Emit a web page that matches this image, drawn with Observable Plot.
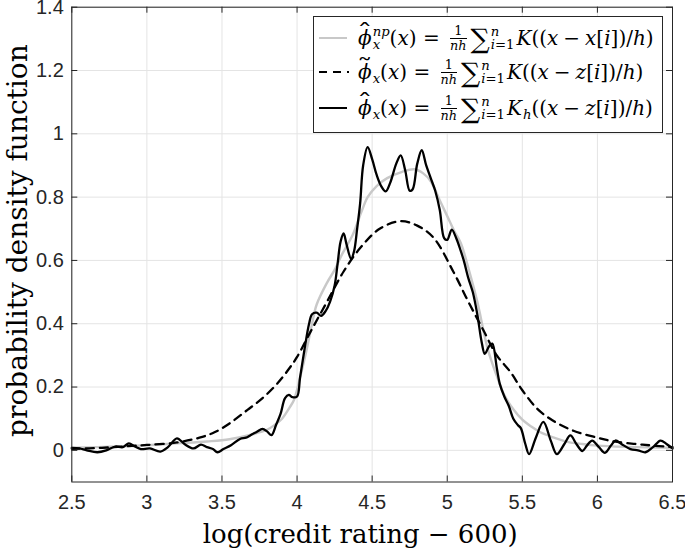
<!DOCTYPE html>
<html>
<head>
<meta charset="utf-8">
<script src="https://cdn.jsdelivr.net/npm/d3@7"></script>
<script src="https://cdn.jsdelivr.net/npm/@observablehq/plot@0.6"></script>
<style>
  body { margin: 0; background: #fff; }
  #wrap { position: relative; width: 685px; height: 551px; overflow: hidden; }
  #legend {
    position: absolute; left: 313px; top: 16px; width: 350px; height: 117px;
    box-sizing: border-box; border: 1.3px solid #262626; background: #fff;
    font-family: "DejaVu Serif", serif; font-size: 20px; color: #000;
  }
  .row { position: absolute; left: 0; height: 34px; display: flex; align-items: center; white-space: nowrap; }
  .sw { position: absolute; left: 5px; width: 28px; height: 0; }
  .eq { position: absolute; left: 44px; display: flex; align-items: center; line-height: 1; }
  .eq i { font-style: italic; }
  .acc { position: relative; display: inline-block; font-style: italic; line-height: 1; }
  .acc .mk { position: absolute; left: 0; right: 0; top: -0.32em; text-align: center; font-style: normal; transform: scaleX(1.6); line-height: 1; }
  .ss { display: inline-flex; flex-direction: column; font-size: 0.66em; line-height: 1.0; margin-left: 1px; }
  .frac { display: inline-flex; flex-direction: column; align-items: center; font-size: 0.64em; line-height: 1.05; margin: 0 4px; }
  .frac .n { border-bottom: 1px solid #000; padding: 0 2px; text-align: center; width: 100%; box-sizing: border-box; }
  .sp { display: inline-block; width: 0.32em; }
  .msp { display: inline-block; width: 0.25em; }
  .sum { font-size: 1.35em; line-height: 1; }
</style>
</head>
<body>
<div id="wrap"></div>
<script>
// ---- data ----
const xTicks = [2.5, 3, 3.5, 4, 4.5, 5, 5.5, 6, 6.5];
const yTicks = [0, 0.2, 0.4, 0.6, 0.8, 1, 1.2, 1.4];

// grey: non-parametric density of x
const npX = [2.5, 2.8, 3.0, 3.2, 3.4, 3.55, 3.7, 3.8, 3.85, 3.9, 3.95, 3.98, 4.02, 4.06, 4.1, 4.13, 4.2, 4.25, 4.3, 4.37, 4.43, 4.47, 4.53, 4.6, 4.7, 4.78, 4.84, 4.89, 4.95, 5.0, 5.05, 5.09, 5.15, 5.2, 5.27, 5.33, 5.38, 5.44, 5.5, 5.56, 5.62, 5.7, 5.8, 5.9, 6.0, 6.2, 6.5];
const npY = [0.008, 0.012, 0.016, 0.022, 0.028, 0.035, 0.05, 0.065, 0.08, 0.10, 0.135, 0.16, 0.23, 0.31, 0.40, 0.46, 0.53, 0.57, 0.62, 0.68, 0.755, 0.80, 0.835, 0.86, 0.88, 0.888, 0.875, 0.85, 0.79, 0.74, 0.69, 0.655, 0.56, 0.47, 0.32, 0.235, 0.175, 0.13, 0.097, 0.075, 0.057, 0.042, 0.027, 0.02, 0.015, 0.011, 0.008];

// dashed: kernel density of z
const tildeX = [2.5, 2.7, 2.87, 3.0, 3.2, 3.35, 3.45, 3.55, 3.67, 3.77, 3.87, 3.95, 4.0, 4.09, 4.2, 4.31, 4.42, 4.55, 4.69, 4.8, 4.91, 5.04, 5.14, 5.24, 5.33, 5.42, 5.5, 5.6, 5.7, 5.84, 6.0, 6.11, 6.3, 6.5];
const tildeY = [0.005, 0.008, 0.013, 0.017, 0.025, 0.04, 0.057, 0.085, 0.128, 0.165, 0.212, 0.26, 0.295, 0.375, 0.47, 0.565, 0.639, 0.70, 0.724, 0.71, 0.671, 0.565, 0.47, 0.38, 0.30, 0.248, 0.19, 0.131, 0.095, 0.062, 0.04, 0.028, 0.018, 0.01];

// solid black: kernel density with K_h
const hatX = [2.5, 2.55, 2.6, 2.67, 2.73, 2.79, 2.84, 2.88, 2.92, 2.96, 3.02, 3.09, 3.14, 3.2, 3.25, 3.31, 3.36, 3.4, 3.44, 3.47, 3.51, 3.56, 3.62, 3.66, 3.69, 3.73, 3.77, 3.8, 3.83, 3.86, 3.89, 3.92, 3.945, 3.97, 4.0, 4.02, 4.05, 4.08, 4.1, 4.13, 4.16, 4.19, 4.22, 4.25, 4.27, 4.29, 4.31, 4.33, 4.36, 4.38, 4.4, 4.42, 4.44, 4.47, 4.5, 4.53, 4.56, 4.59, 4.62, 4.66, 4.69, 4.72, 4.75, 4.77, 4.8, 4.83, 4.86, 4.89, 4.92, 4.95, 4.98, 5.0, 5.03, 5.06, 5.09, 5.11, 5.14, 5.17, 5.2, 5.23, 5.25, 5.28, 5.3, 5.33, 5.35, 5.38, 5.41, 5.44, 5.47, 5.49, 5.52, 5.545, 5.59, 5.64, 5.69, 5.73, 5.78, 5.82, 5.86, 5.9, 5.93, 5.965, 6.01, 6.05, 6.09, 6.12, 6.16, 6.22, 6.27, 6.32, 6.37, 6.42, 6.46, 6.5];
const hatY = [0.008, 0.006, 0.0, -0.006, 0.0, 0.012, 0.010, 0.022, 0.012, 0.004, 0.006, -0.004, 0.010, 0.038, 0.020, 0.006, 0.018, 0.010, 0.004, -0.006, 0.004, 0.016, 0.036, 0.040, 0.048, 0.058, 0.068, 0.060, 0.048, 0.080, 0.115, 0.165, 0.175, 0.168, 0.170, 0.23, 0.32, 0.40, 0.43, 0.435, 0.425, 0.44, 0.47, 0.52, 0.59, 0.66, 0.685, 0.65, 0.605, 0.63, 0.70, 0.78, 0.90, 0.958, 0.92, 0.87, 0.835, 0.818, 0.845, 0.905, 0.932, 0.885, 0.82, 0.825, 0.905, 0.948, 0.90, 0.86, 0.82, 0.76, 0.67, 0.665, 0.697, 0.67, 0.63, 0.60, 0.545, 0.50, 0.43, 0.34, 0.305, 0.33, 0.337, 0.26, 0.21, 0.17, 0.14, 0.10, 0.08, 0.07, 0.02, -0.012, 0.04, 0.09, 0.03, -0.012, 0.02, 0.047, 0.02, -0.002, 0.015, 0.031, 0.01, -0.008, 0.015, 0.031, 0.02, 0.004, 0.0, -0.006, 0.010, 0.031, 0.020, 0.006];

const xLabel = "log(credit rating − 600)";
const yLabel = "probability density function";

// ---- build ----
const toRows = (xs, ys) => xs.map((x, i) => ({x, y: ys[i]}));
const npData = toRows(npX, npY);
const tildeData = toRows(tildeX, tildeY);
const hatData = toRows(hatX, hatY);

const W = 685, H = 551;
const mL = 71.3, mR = 13, mT = 6.7, mB = 551 - 481.5;
const fH = H - mT - mB, fW = W - mL - mR;
const tk = 6;
const axisColor = "#262626";
const gridColor = "#e4e4e4";

const chart = Plot.plot({
  width: W, height: H,
  marginLeft: mL, marginRight: mR, marginTop: mT, marginBottom: mB,
  x: {domain: [2.5, 6.5]},
  y: {domain: [-0.1, 1.4]},
  style: {fontFamily: "Liberation Sans, Arial, sans-serif", fontSize: "20px", color: axisColor, background: "#fff", overflow: "visible"},
  marks: [
    Plot.gridX(xTicks, {stroke: gridColor, strokeOpacity: 1, strokeWidth: 1}),
    Plot.gridY(yTicks, {stroke: gridColor, strokeOpacity: 1, strokeWidth: 1}),
    Plot.line(npData, {x: "x", y: "y", stroke: "#c8c8c8", strokeWidth: 2.4, curve: "catmull-rom"}),
    Plot.line(tildeData, {x: "x", y: "y", stroke: "#000", strokeWidth: 2.3, strokeDasharray: "8,6", curve: "catmull-rom"}),
    Plot.line(hatData, {x: "x", y: "y", stroke: "#000", strokeWidth: 2.3, curve: "catmull-rom", strokeLinejoin: "round"}),
    Plot.tickX(xTicks, {x: d => d, insetTop: fH - tk, stroke: axisColor}),
    Plot.tickX(xTicks, {x: d => d, insetBottom: fH - tk, stroke: axisColor}),
    Plot.tickY(yTicks, {y: d => d, insetRight: fW - tk, stroke: axisColor}),
    Plot.tickY(yTicks, {y: d => d, insetLeft: fW - tk, stroke: axisColor}),
    Plot.frame({stroke: axisColor, strokeWidth: 1}),
    Plot.axisX(xTicks, {tickSize: 0, tickPadding: 13, label: null, tickFormat: d => String(d), fill: axisColor}),
    Plot.axisY(yTicks, {tickSize: 0, tickPadding: 8, label: null, tickFormat: d => String(d), fill: axisColor}),
    Plot.text([xLabel], {frameAnchor: "bottom", textAnchor: "middle", lineAnchor: "middle", dx: -12, dy: 53, fontFamily: "DejaVu Serif", fontSize: 26, fill: "#000"}),
    Plot.text([yLabel], {frameAnchor: "left", textAnchor: "middle", lineAnchor: "middle", dx: -54, dy: -4, rotate: -90, fontFamily: "DejaVu Serif", fontSize: 28, fill: "#000"})
  ]
});

const wrap = document.getElementById("wrap");
wrap.appendChild(chart);

// legend (HTML overlay)
const legend = document.createElement("div");
legend.id = "legend";
const hatMk = "ˆ", tilMk = "˜";
const rows = [
  {top: 4, sw: '<span class="sw" style="border-top:2.4px solid #c8c8c8"></span>',
   eq: `<span class="acc">ϕ<span class="mk">${hatMk}</span></span><span class="ss"><i>np</i><i>x</i></span>(<i>x</i>)<span class="sp"></span>=<span class="sp"></span><span class="frac"><span class="n">1</span><span><i>nh</i></span></span><span class="sum">∑</span><span class="ss"><i>n</i><span><i>i</i>=1</span></span>&#8202;<i>K</i>((<i>x</i><span class="msp"></span>−<span class="msp"></span><i>x</i>[<i>i</i>])/<i>h</i>)`},
  {top: 38, sw: '<span class="sw" style="width:30px;height:2.3px;background:repeating-linear-gradient(90deg,#000 0 8px,transparent 8px 14px)"></span>',
   eq: `<span class="acc">ϕ<span class="mk">${tilMk}</span></span><span class="ss"><i>&nbsp;</i><i>x</i></span>(<i>x</i>)<span class="sp"></span>=<span class="sp"></span><span class="frac"><span class="n">1</span><span><i>nh</i></span></span><span class="sum">∑</span><span class="ss"><i>n</i><span><i>i</i>=1</span></span>&#8202;<i>K</i>((<i>x</i><span class="msp"></span>−<span class="msp"></span><i>z</i>[<i>i</i>])/<i>h</i>)`},
  {top: 74, sw: '<span class="sw" style="border-top:2.4px solid #000"></span>',
   eq: `<span class="acc">ϕ<span class="mk">${hatMk}</span></span><span class="ss"><i>&nbsp;</i><i>x</i></span>(<i>x</i>)<span class="sp"></span>=<span class="sp"></span><span class="frac"><span class="n">1</span><span><i>nh</i></span></span><span class="sum">∑</span><span class="ss"><i>n</i><span><i>i</i>=1</span></span>&#8202;<i>K</i><span class="ss"><i>&nbsp;</i><i>h</i></span>((<i>x</i><span class="msp"></span>−<span class="msp"></span><i>z</i>[<i>i</i>])/<i>h</i>)`}
];
legend.innerHTML = rows.map(r => `<div class="row" style="top:${r.top}px;width:100%">${r.sw}<span class="eq">${r.eq}</span></div>`).join("");
wrap.appendChild(legend);
</script>
</body>
</html>
